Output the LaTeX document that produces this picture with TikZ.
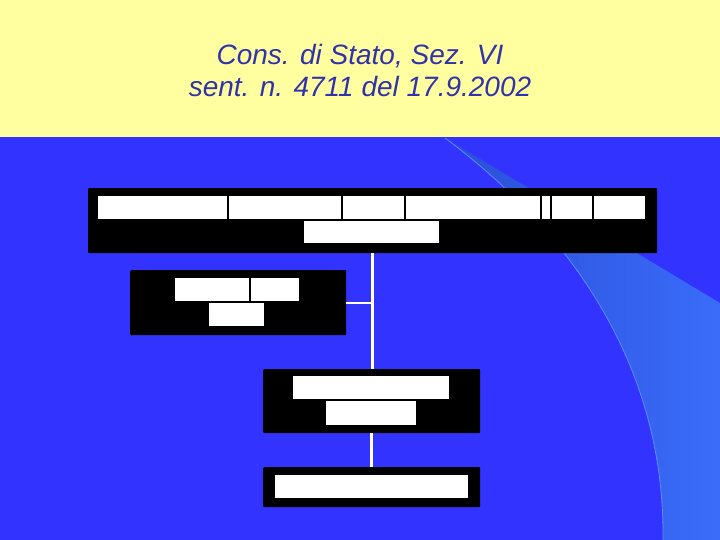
\documentclass[tikz,border=0pt]{standalone}
\usepackage{fontspec}
\setmainfont{Liberation Sans}
\usetikzlibrary{positioning}
\definecolor{titleback}{RGB}{255,255,160}
\definecolor{slideblue}{RGB}{51,51,255}
\definecolor{swooshdark}{RGB}{42,78,215}
\definecolor{swooshlight}{RGB}{58,108,250}
\definecolor{swooshedge}{RGB}{90,140,255}
\definecolor{titleink}{RGB}{50,50,170}

\tikzset{
  panel/.style={fill=black,rounded corners=1pt,anchor=north west,inner sep=0pt},
  cell/.style={fill=white,anchor=north west,inner sep=0pt},
  trunk/.style={draw=white,line width=2.5pt}
}

\begin{document}
\begin{tikzpicture}[x=1pt,y=-1pt]
\useasboundingbox (0,0) rectangle (720,540);
\fill[titleback] (0,0) rectangle (720,137);
\fill[slideblue] (0,137) rectangle (720,540);
% swoosh on the right
\shade[left color=swooshdark,right color=swooshlight]
  (445,138) .. controls (575,235) and (665,370) .. (663,540)
  -- (720,540) -- (720,303) -- cycle;
\draw[swooshedge,line width=0.8pt]
  (445,138) .. controls (575,235) and (665,370) .. (663,540);

\node [text=titleink,font=\itshape\fontsize{28}{32}\selectfont,align=center] (title) at (360,71)
{Cons. di Stato, Sez. VI\\sent. n. 4711 del 17.9.2002};

% black panels
\node [panel,minimum width=569pt,minimum height=65pt] (topbox) at (88,188) {};
\node [panel,minimum width=216pt,minimum height=65pt] (sidebox) at (130,270) {};
\node [panel,minimum width=217pt,minimum height=64pt] (midbox) at (263,369) {};
\node [panel,minimum width=217pt,minimum height=40pt] (lowbox) at (263,467) {};

% white cells
\foreach \a/\b [count=\i] in {98/227,229/341,343/404,406/540,542/550,552/592,594/645}
  \node [cell,minimum width={(\b-\a)*1pt},minimum height=23pt] (topcell\i) at (\a,196) {};
\node [cell,minimum width=135pt,minimum height=22pt] (topcellb) at (304,221) {};
\node [cell,minimum width=74pt,minimum height=23pt] (sidecell1) at (175,278) {};
\node [cell,minimum width=48pt,minimum height=23pt] (sidecell2) at (251,278) {};
\node [cell,minimum width=55pt,minimum height=23pt] (sidecellb) at (209,303) {};
\node [cell,minimum width=156pt,minimum height=23pt] (midcell) at (293,376) {};
\node [cell,minimum width=90pt,minimum height=24pt] (midcellb) at (326,401) {};
\node [cell,minimum width=193pt,minimum height=23pt] (lowcell) at (275,475) {};

% connectors
\coordinate (fork) at (topbox.south |- sidebox.east);
\draw [trunk] (topbox.south) -- (topbox.south |- midbox.north);
\draw [trunk,line width=2pt] (sidebox.east) -- (fork);
\draw [trunk] (midbox.south) -- (lowbox.north);
\end{tikzpicture}
\end{document}
